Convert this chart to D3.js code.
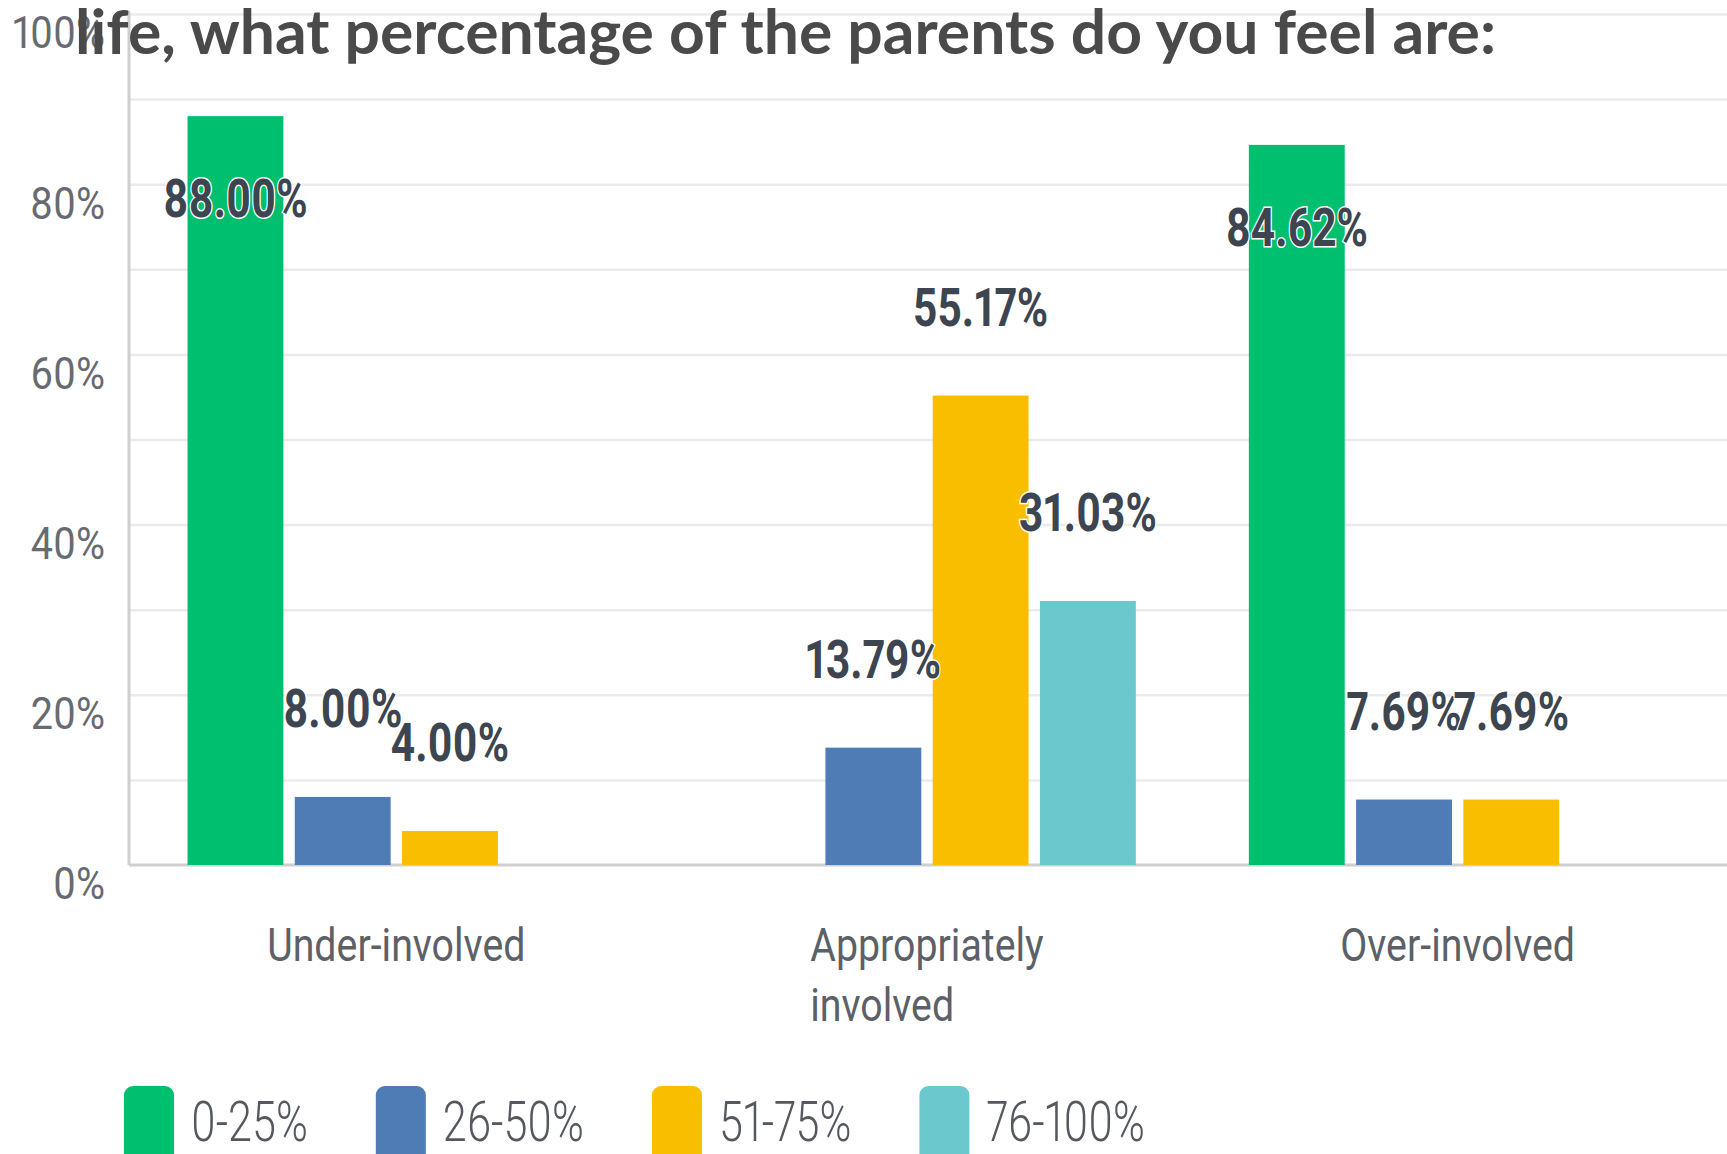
<!DOCTYPE html>
<html>
<head>
<meta charset="utf-8">
<script src="https://cdn.jsdelivr.net/npm/d3@7"></script>
<style>
  html, body { margin: 0; padding: 0; background: #fff; overflow: hidden; }
  svg { display: block; }
  text { font-variant-numeric: proportional-nums; font-feature-settings: "pnum" 1; }
</style>
</head>
<body>
<svg id="chart"></svg>
<script>
// Survey answers: share of respondents per involvement category
const categories = ["Under-involved", "Appropriately involved", "Over-involved"];
const seriesNames = ["0-25%", "26-50%", "51-75%", "76-100%"];
const share0to25 = [88.00, 0, 84.62];
const share26to50 = [8.00, 13.79, 7.69];
const share51to75 = [4.00, 55.17, 7.69];
const share76to100 = [0, 31.03, 0];
const yTickValues = [0, 20, 40, 60, 80, 100];
const gridValues = [10, 20, 30, 40, 50, 60, 70, 80, 90, 100];
const seriesColors = ["#00bf6f", "#507cb6", "#f9be00", "#6bc8cd"];
const titleText = "life, what percentage of the parents do you feel are:";

const seriesValues = [share0to25, share26to50, share51to75, share76to100];

const W = 1727, H = 1154;
const plot = { left: 129, right: 1723, top: 14, bottom: 865 };

const svg = d3.select("#chart").attr("width", W).attr("height", H);

const y = d3.scaleLinear().domain([0, 100]).range([plot.bottom, plot.top]);
const x0 = d3.scaleBand().domain(categories).range([plot.left + 2, plot.right])
  .paddingInner(0.213).paddingOuter(0.1065);
const x1 = d3.scaleBand().domain(seriesNames).range([0, x0.bandwidth()])
  .paddingInner(0.106).paddingOuter(0);
const color = d3.scaleOrdinal().domain(seriesNames).range(seriesColors);

// horizontal gridlines
const grid = svg.append("g")
  .attr("transform", `translate(${plot.left},0)`)
  .call(d3.axisLeft(y).tickValues(gridValues).tickSize(-(W - plot.left)).tickFormat(""));
grid.select(".domain").remove();
grid.selectAll(".tick line").attr("stroke", "#ebebeb").attr("stroke-width", 2.5);

// y tick labels
const yAxis = svg.append("g")
  .attr("transform", `translate(${plot.left},0)`)
  .call(d3.axisLeft(y).tickValues(yTickValues).tickSize(0).tickFormat(d => d + "%"));
yAxis.select(".domain").remove();
yAxis.selectAll(".tick text")
  .attr("x", 0).attr("dy", "0.36em")
  .attr("transform", "translate(-24,18) scale(0.9,1)")
  .attr("text-anchor", "end")
  .style("font-family", "Roboto, sans-serif")
  .style("font-size", "44px")
  .style("fill", "#676b71");

// axis lines
svg.append("line")
  .attr("x1", plot.left).attr("x2", plot.left)
  .attr("y1", y(100) - 3).attr("y2", y(0))
  .attr("stroke", "#cfcfcf").attr("stroke-width", 3);
svg.append("line")
  .attr("x1", plot.left).attr("x2", W)
  .attr("y1", y(0)).attr("y2", y(0))
  .attr("stroke", "#cfcfcf").attr("stroke-width", 3);

// bars
const rows = categories.map((c, ci) => ({
  category: c,
  items: seriesNames.map((s, si) => ({ series: s, value: seriesValues[si][ci] }))
}));

const groups = svg.append("g").selectAll("g").data(rows).join("g")
  .attr("transform", d => `translate(${x0(d.category)},0)`);

groups.selectAll("rect").data(d => d.items).join("rect")
  .attr("x", d => x1(d.series))
  .attr("y", d => y(d.value))
  .attr("width", x1.bandwidth())
  .attr("height", d => y(0) - y(d.value))
  .attr("fill", d => color(d.series));

// value labels: above the bar, or tucked inside when there is no room above
const labelSqueeze = 0.8;
groups.selectAll("text.value").data(d => d.items.filter(e => e.value > 0)).join("text")
  .attr("class", "value")
  .attr("transform", d => {
    const cx = x1(d.series) + x1.bandwidth() / 2;
    const top = y(d.value);
    const cy = top - 89 < 170 ? top + 82 : top - 89;
    return `translate(${cx},${cy}) scale(${labelSqueeze},1)`;
  })
  .attr("dy", "0.36em")
  .attr("text-anchor", "middle")
  .style("font-family", "Roboto, sans-serif")
  .style("font-weight", "700")
  .style("font-size", "53px")
  .style("fill", "#3c4550")
  .style("stroke", "#ffffff")
  .style("stroke-width", "3px")
  .style("paint-order", "stroke")
  .text(d => d.value.toFixed(2) + "%");

// category labels (wrapped, lines left-aligned as a block centred on the group)
const catSqueeze = 0.855;
const catLayer = svg.append("g");
categories.forEach(c => {
  const words = c.split(" ");
  const lines = words.length > 1 && c.length > 16 ? words : [c];
  const t = catLayer.append("text")
    .style("font-family", "Roboto, sans-serif")
    .style("font-size", "46px")
    .style("fill", "#5c6168");
  lines.forEach((ln, i) => {
    t.append("tspan").attr("x", 0).attr("y", i * 60.5).attr("dy", "0.36em").text(ln);
  });
  const maxW = d3.max(t.selectAll("tspan").nodes(), n => n.getComputedTextLength()) * catSqueeze;
  const cx = x0(c) + x0.bandwidth() / 2;
  t.attr("transform", `translate(${cx - maxW / 2},944) scale(${catSqueeze},1)`);
});

// legend
const legSqueeze = 0.77;
const legend = svg.append("g");
let lx = 124;
seriesNames.forEach(s => {
  legend.append("rect")
    .attr("x", lx).attr("y", 1086).attr("width", 50).attr("height", 80)
    .attr("rx", 9).attr("fill", color(s));
  const t = legend.append("text")
    .attr("dy", "0.36em")
    .style("font-family", "Roboto, sans-serif")
    .style("font-weight", "300")
    .style("font-size", "56px")
    .style("fill", "#55595f")
    .text(s);
  const tx = lx + 50 + 17;
  t.attr("transform", `translate(${tx},1121) scale(${legSqueeze},1)`);
  lx = tx + t.node().getComputedTextLength() * legSqueeze + 68;
});

// title
svg.append("text")
  .attr("x", 75).attr("y", 54)
  .attr("textLength", 1421).attr("lengthAdjust", "spacingAndGlyphs")
  .style("font-family", "Lato, sans-serif")
  .style("font-weight", "700")
  .style("font-size", "62px")
  .style("fill", "#4a4a4a")
  .text(titleText);
</script>
</body>
</html>
